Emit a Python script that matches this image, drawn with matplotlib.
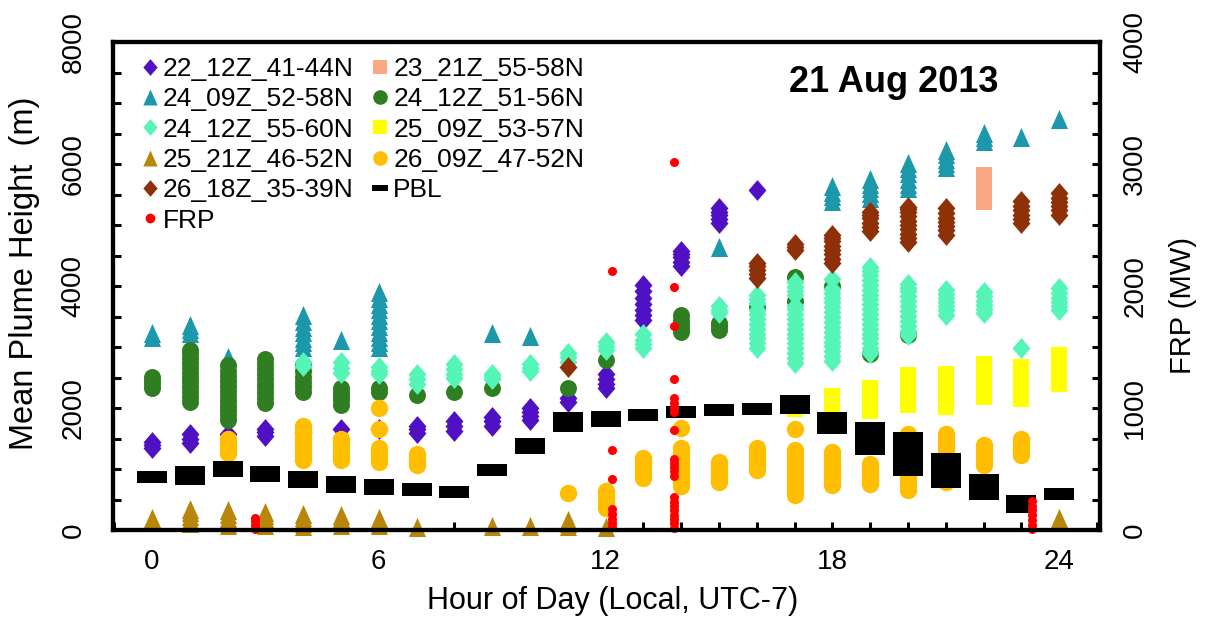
import numpy as np
import matplotlib
matplotlib.use("Agg")
import matplotlib.pyplot as plt
from matplotlib.lines import Line2D
from matplotlib.path import Path
from matplotlib.ticker import MultipleLocator

plt.rcParams['font.family'] = ['Liberation Sans', 'DejaVu Sans']

# ---------------- data ----------------
labels = ["22_12Z_41-44N", "23_21Z_55-58N", "24_09Z_52-58N", "24_12Z_51-56N",
          "24_12Z_55-60N", "25_09Z_53-57N", "25_21Z_46-52N", "26_09Z_47-52N",
          "26_18Z_35-39N", "PBL", "FRP"]

purple_hours = [0, 1, 2, 3, 4, 5, 6, 7, 8, 9, 10, 11, 12, 13, 14, 15, 16]
purple_vals = [[1350, 1400, 1450], [1430, 1500, 1570], [1580], [1540, 1600, 1650],
               [1600], [1660], [1650], [1590, 1650, 1710], [1620, 1700, 1780],
               [1710, 1780, 1850], [1800, 1870, 1940, 2000], [2100, 2160],
               [2330, 2400, 2480, 2560], [3450, 3520, 3600, 3700, 3800, 3920, 4020],
               [4330, 4400, 4470, 4530, 4580], [5030, 5100, 5160, 5220, 5280], [5580]]

salmon_hours = [22]
salmon_vals = [[5380, 5460, 5540, 5620, 5700, 5760, 5820]]

teal_hours = [0, 1, 2, 4, 5, 6, 9, 10, 15, 18, 19, 20, 21, 22, 23, 24]
teal_vals = [[3170, 3230], [3230, 3300, 3360], [2840],
             [3000, 3080, 3150, 3250, 3330, 3420, 3520], [3110],
             [3000, 3080, 3170, 3250, 3350, 3450, 3530, 3620, 3700, 3800, 3900],
             [3230], [3180], [4640], [5400, 5470, 5540, 5640],
             [5440, 5520, 5600, 5680, 5760], [5600, 5680, 5760, 5850, 5930, 6020],
             [5950, 6020, 6090, 6160, 6230], [6370, 6440, 6510], [6450], [6740]]

green_hours = [0, 1, 2, 3, 4, 5, 6, 7, 8, 9, 11, 12, 14, 15, 16, 17, 18, 19, 20]
green_vals = [[2330, 2400, 2460, 2510],
              [2100, 2180, 2260, 2340, 2420, 2500, 2580, 2660, 2740, 2820, 2900, 2950],
              [1800, 1880, 1960, 2040, 2120, 2200, 2280, 2360, 2440, 2520, 2600, 2700],
              [2080, 2160, 2240, 2320, 2400, 2480, 2560, 2640, 2720, 2810],
              [2270, 2350, 2430, 2510, 2600, 2700], [2050, 2130, 2200, 2270, 2320],
              [2270, 2320], [2210], [2270], [2320], [2320], [2780],
              [3240, 3310, 3380, 3450, 3530], [3280, 3340, 3400], [3650],
              [3750, 4140], [4000], [2880], [3200]]

aqua_hours = [4, 5, 6, 7, 8, 9, 10, 11, 12, 13, 15, 16, 17, 18, 19, 20, 21, 22, 23, 24]
aqua_vals = [[2690, 2750], [2580, 2660, 2750], [2550, 2610, 2670], [2390, 2470, 2560],
             [2490, 2560, 2640, 2720], [2470, 2520, 2560], [2600, 2660, 2720],
             [2750, 2830, 2900], [2950, 3020, 3080], [2980, 3050, 3120, 3220],
             [3550, 3610, 3670],
             [2980, 3060, 3140, 3220, 3300, 3380, 3460, 3540, 3600, 3720, 3780, 3850],
             [2740, 2820, 2900, 2980, 3060, 3140, 3220, 3300, 3380, 3460, 3540, 3620,
              3680, 3850, 3920, 3990, 4060],
             [2770, 2850, 2930, 3010, 3090, 3170, 3250, 3330, 3410, 3490, 3570, 3650,
              3730, 3810, 3890, 3950, 4120],
             [2900, 2980, 3060, 3140, 3220, 3300, 3380, 3460, 3540, 3620, 3700, 3780,
              3860, 3940, 4020, 4100, 4180, 4250, 4310],
             [3190, 3270, 3350, 3430, 3510, 3590, 3670, 3750, 3830, 3910, 3970, 4030],
             [3530, 3600, 3670, 3740, 3800, 3870, 3930],
             [3550, 3620, 3690, 3760, 3830, 3900], [2980],
             [3600, 3670, 3740, 3810, 3880, 3970]]

yellow_hours = [17, 18, 19, 20, 21, 22, 23, 24]
yellow_vals = [[1990], [2050, 2130, 2200], [1950, 2030, 2110, 2190, 2260, 2330],
               [2050, 2130, 2210, 2290, 2370, 2450, 2540],
               [2020, 2100, 2180, 2260, 2340, 2420, 2500, 2560],
               [2180, 2260, 2340, 2420, 2500, 2580, 2660, 2720],
               [2150, 2230, 2310, 2390, 2470, 2550, 2620, 2680],
               [2400, 2480, 2560, 2640, 2720, 2800, 2870]]

gold_hours = [0, 1, 2, 3, 4, 5, 6, 7, 9, 10, 11, 12, 24]
gold_vals = [[190], [110, 170, 230, 290, 350], [90, 150, 200, 260, 320],
             [90, 150, 200, 250, 300], [60, 110, 160, 210, 270], [90, 140, 190, 240],
             [90, 140, 190], [50], [70], [70], [60, 110, 160], [50], [190]]

orange_hours = [2, 4, 5, 6, 7, 11, 12, 13, 14, 15, 16, 17, 18, 19, 20, 21, 22, 23]
orange_vals = [[1260, 1320, 1380, 1440, 1500],
               [1150, 1220, 1290, 1360, 1430, 1500, 1570, 1640, 1700],
               [1150, 1220, 1290, 1360, 1430, 1500],
               [1120, 1180, 1240, 1300, 1350, 1650, 2000], [1070, 1130, 1190, 1250],
               [610], [360, 430, 500, 570, 640], [860, 930, 1000, 1070, 1130, 1180],
               [720, 790, 860, 930, 1000, 1070, 1140, 1210, 1280, 1350, 1670],
               [780, 850, 920, 990, 1060, 1120], [990, 1060, 1130, 1200, 1270, 1340],
               [580, 650, 720, 790, 860, 930, 1000, 1070, 1140, 1210, 1280, 1310, 1650],
               [730, 800, 870, 940, 1010, 1080, 1150, 1220, 1280],
               [750, 820, 890, 960, 1030, 1090],
               [660, 730, 800, 870, 940, 1010, 1080, 1150, 1220, 1290, 1360, 1430,
                1500, 1570],
               [790, 860, 930, 1000, 1070, 1140, 1210, 1280, 1350, 1420, 1490, 1570],
               [1070, 1140, 1210, 1280, 1340, 1390], [1230, 1290, 1350, 1420, 1490]]

brown_hours = [11, 16, 17, 18, 19, 20, 21, 23, 24]
brown_vals = [[2680], [4130, 4200, 4260, 4320, 4380], [4590, 4640, 4690],
              [4380, 4450, 4520, 4590, 4660, 4730, 4790, 4840],
              [4900, 4970, 5040, 5110, 5160, 5210],
              [4720, 4790, 4860, 4930, 5000, 5070, 5140, 5210, 5260, 5300],
              [4840, 4910, 4980, 5050, 5120, 5190, 5280],
              [5030, 5100, 5170, 5240, 5310, 5390],
              [5170, 5240, 5310, 5380, 5450, 5520]]

pbl_hours = list(range(0, 25))
pbl_vals = [[870], [830, 890, 950], [960, 1000, 1040], [880, 915, 950], [790, 830, 870],
            [710, 750, 790], [670, 705, 740], [660, 680], [630], [990], [1340, 1410],
            [1700, 1770, 1830], [1790, 1860], [1890], [1940], [1970], [1980],
            [2000, 2050, 2110], [1670, 1750, 1840],
            [1320, 1400, 1480, 1560, 1620, 1680],
            [990, 1070, 1150, 1230, 1300, 1380, 1450, 1510],
            [790, 870, 950, 1030, 1100, 1160], [590, 650, 700, 760, 820],
            [370, 430, 480], [585]]

frp_hours = [2.72, 12.18, 13.81, 23.27]
frp_vals = [[8, 40, 70, 100],
            [2120, 656, 415, 170, 130, 90, 55, 22],
            [3020, 1990, 1670, 1235, 1085, 1040, 1000, 965, 820, 580, 550, 515, 480,
             445, 270, 230, 195, 160, 125, 90, 55, 20],
            [8, 40, 80, 120, 160, 200, 240]]

x_ticks = [0, 6, 12, 18, 24]
y_ticks = [0, 2000, 4000, 6000, 8000]
y2_ticks = [0, 1000, 2000, 3000, 4000]

# ---------------- styling ----------------
c_purple = '#5010C4'
c_salmon = '#F8A882'
c_teal = '#1C98AA'
c_green = '#2F7F22'
c_aqua = '#55F5B8'
c_yellow = '#FFFF00'
c_gold = '#B8860B'
c_orange = '#FFBE00'
c_brown = '#8E3008'

diamond = Path([(0, 1), (0.86, 0), (0, -1), (-0.86, 0), (0, 1)],
               [Path.MOVETO, Path.LINETO, Path.LINETO, Path.LINETO, Path.CLOSEPOLY])
tri = Path([(0, 1), (-0.9, -1), (0.9, -1), (0, 1)],
           [Path.MOVETO, Path.LINETO, Path.LINETO, Path.CLOSEPOLY])
rect = Path([(-1, -0.43), (1, -0.43), (1, 0.43), (-1, 0.43), (-1, -0.43)],
            [Path.MOVETO, Path.LINETO, Path.LINETO, Path.LINETO, Path.CLOSEPOLY])
dash = Path([(-1, -0.33), (1, -0.33), (1, 0.33), (-1, 0.33), (-1, -0.33)],
            [Path.MOVETO, Path.LINETO, Path.LINETO, Path.LINETO, Path.CLOSEPOLY])


def flat(hours, vals):
    xs = np.repeat(np.asarray(hours, dtype=float), [len(v) for v in vals])
    ys = np.concatenate([np.asarray(v, dtype=float) for v in vals])
    return xs, ys


fig = plt.figure(figsize=(12.08, 6.24), dpi=100)
ax = fig.add_axes([0.09354, 0.15064, 0.81705, 0.78205])
ax2 = ax.twinx()

series = [
    (purple_hours, purple_vals, diamond, c_purple, 15),
    (salmon_hours, salmon_vals, 's', c_salmon, 12),
    (teal_hours, teal_vals, tri, c_teal, 13.7),
    (green_hours, green_vals, 'o', c_green, 12.2),
    (aqua_hours, aqua_vals, diamond, c_aqua, 15),
    (yellow_hours, yellow_vals, 's', c_yellow, 12.2),
    (gold_hours, gold_vals, tri, c_gold, 13.7),
    (orange_hours, orange_vals, 'o', c_orange, 12.5),
    (brown_hours, brown_vals, diamond, c_brown, 15),
    (pbl_hours, pbl_vals, rect, 'black', 21.6),
]
for hrs, vals, mk, col, ms in series:
    xs, ys = flat(hrs, vals)
    ax.plot(xs, ys, linestyle='none', marker=mk, color=col, markersize=ms,
            markeredgewidth=0, clip_on=False)

xs, ys = flat(frp_hours, frp_vals)
ax2.plot(xs, ys, linestyle='none', marker='o', color='red', markersize=6.5,
         markeredgewidth=0, clip_on=False)

ax.set_xlim(-1.03, 25.08)
ax.set_ylim(0, 8000)
ax2.set_ylim(0, 4000)

ax.set_xticks(x_ticks)
ax.xaxis.set_minor_locator(MultipleLocator(1))
ax.set_yticks(y_ticks)
ax.yaxis.set_minor_locator(MultipleLocator(500))
ax2.set_yticks(y2_ticks)
ax2.yaxis.set_minor_locator(MultipleLocator(250))

for a in (ax, ax2):
    for s in a.spines.values():
        s.set_linewidth(3)
ax.tick_params(axis='both', which='both', direction='in', length=5.5, width=2.2)
ax.tick_params(axis='x', labelsize=20, pad=14)
ax.tick_params(axis='y', labelsize=20, pad=19, labelrotation=90)
ax2.tick_params(axis='y', which='both', direction='in', length=5.5, width=2.2)
ax2.tick_params(axis='y', labelsize=20, pad=16, labelrotation=90)
for t in ax.get_yticklabels():
    t.set_va('center')
for t in ax2.get_yticklabels():
    t.set_va('center')

ax.set_xlabel('Hour of Day (Local, UTC-7)', fontsize=22)
ax.xaxis.set_label_coords(0.506, -0.145)
ax.xaxis.label.set_va('center')
ax.set_ylabel('Mean Plume Height  (m)', fontsize=23.5)
ax.yaxis.set_label_coords(-0.0895, 0.525)
ax.yaxis.label.set_va('center')
ax2.set_ylabel('FRP (MW)', fontsize=21)
ax2.yaxis.set_label_coords(1.084, 0.461)
ax2.yaxis.label.set_va('center')

ax.text(0.791, 0.8975, '21 Aug 2013', transform=ax.transAxes, fontsize=26,
        fontweight='bold', ha='center', va='baseline')

# legend (row-wise order like the reference)
h = {
    labels[0]: Line2D([], [], ls='none', marker=diamond, color=c_purple, ms=12, mew=0),
    labels[1]: Line2D([], [], ls='none', marker='s', color=c_salmon, ms=10.5, mew=0),
    labels[2]: Line2D([], [], ls='none', marker=tri, color=c_teal, ms=11.5, mew=0),
    labels[3]: Line2D([], [], ls='none', marker='o', color=c_green, ms=10.5, mew=0),
    labels[4]: Line2D([], [], ls='none', marker=diamond, color=c_aqua, ms=12, mew=0),
    labels[5]: Line2D([], [], ls='none', marker='s', color=c_yellow, ms=10.5, mew=0),
    labels[6]: Line2D([], [], ls='none', marker=tri, color=c_gold, ms=11.5, mew=0),
    labels[7]: Line2D([], [], ls='none', marker='o', color=c_orange, ms=10.5, mew=0),
    labels[8]: Line2D([], [], ls='none', marker=diamond, color=c_brown, ms=12, mew=0),
    labels[9]: Line2D([], [], ls='none', marker=dash, color='black', ms=11, mew=0),
    labels[10]: Line2D([], [], ls='none', marker='o', color='red', ms=7, mew=0),
}
order = [labels[i] for i in (0, 2, 4, 6, 8, 10, 1, 3, 5, 7, 9)]
ax2.legend([h[k] for k in order], order, ncol=2, loc='upper left',
           bbox_to_anchor=((139 - 113) / 987, (530 - 57) / 488),
           frameon=False, fontsize=19, handlelength=0.8, handletextpad=0.1,
           columnspacing=0.6, labelspacing=0.24, borderpad=0, borderaxespad=0)

fig.savefig('out.png', dpi=100)
